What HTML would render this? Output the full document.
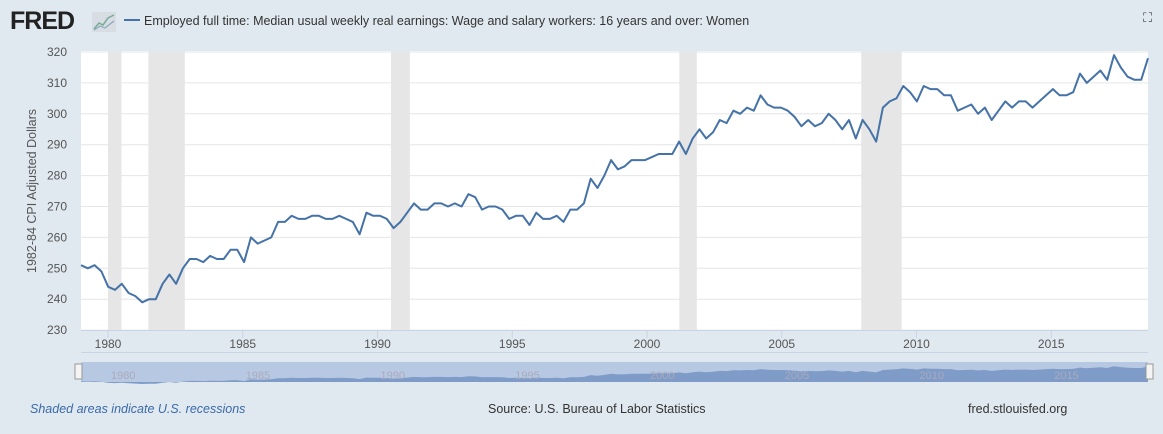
<!DOCTYPE html>
<html><head><style>
body{margin:0;width:1163px;height:434px;background:#e1e9f0;font-family:"Liberation Sans",sans-serif;overflow:hidden;position:relative}
.t{position:absolute;white-space:nowrap}
</style></head><body>
<svg width="1163" height="434" style="position:absolute;left:0;top:0" id="s"></svg>
<div class="t" style="left:10px;top:7px;font-size:25px;font-weight:bold;letter-spacing:-1px;color:#222">FRED</div>
<div class="t" style="left:144px;top:14px;font-size:12.5px;color:#333">Employed full time: Median usual weekly real earnings: Wage and salary workers: 16 years and over: Women</div>
<div class="t" style="left:1143px;top:10px;font-size:13px;color:#444">⛶</div>
<div class="t" style="left:30px;top:402px;font-size:12.5px;color:#3a6aa8;font-style:italic">Shaded areas indicate U.S. recessions</div>
<div class="t" style="left:488px;top:402px;font-size:12.5px;color:#333">Source: U.S. Bureau of Labor Statistics</div>
<div class="t" style="left:968px;top:402px;font-size:12.5px;color:#333">fred.stlouisfed.org</div>
<script>
const v=[251,250,251,249,244,243,245,242,241,239,240,240,245,248,245,250,253,253,252,254,253,253,256,256,252,260,258,259,260,265,265,267,266,266,267,267,266,266,267,266,265,261,268,267,267,266,263,265,268,271,269,269,271,271,270,271,270,274,273,269,270,270,269,266,267,267,264,268,266,266,267,265,269,269,271,279,276,280,285,282,283,285,285,285,286,287,287,287,291,287,292,295,292,294,298,297,301,300,302,301,306,303,302,302,301,299,296,298,296,297,300,298,295,298,292,298,295,291,302,304,305,309,307,304,309,308,308,306,306,301,302,303,300,302,298,301,304,302,304,304,302,304,306,308,306,306,307,313,310,312,314,311,319,315,312,311,311,318];
const X=y=>108+(y-1980)*26.95, Y=val=>52+(320-val)*3.09;
let h='<rect x="81" y="51" width="1067" height="279" fill="#fff"/>';
[[1980,1980.5],[1981.5,1982.85],[1990.5,1991.2],[2001.2,2001.85],[2007.95,2009.45]].forEach(r=>h+=`<rect x="${X(r[0])}" y="51" width="${X(r[1])-X(r[0])}" height="279" fill="#e6e6e6"/>`);
for(let g=230;g<=320;g+=10){h+=`<line x1="81" x2="1148" y1="${Y(g)}" y2="${Y(g)}" stroke="#e6e6e6"/>`;h+=`<text x="67" y="${Y(g)+4}" font-size="12" fill="#555" text-anchor="end">${g}</text>`;}
h+='<line x1="81" x2="1148" y1="330.5" y2="330.5" stroke="#c8d3e6"/>';
for(let yr=1980;yr<=2015;yr+=5){h+=`<line x1="${X(yr)}" x2="${X(yr)}" y1="330" y2="338" stroke="#c8d3e6"/><text x="${X(yr)}" y="348" font-size="12" fill="#555" text-anchor="middle">${yr}</text>`;}
h+='<line x1="81" x2="1148" y1="352.5" y2="352.5" stroke="#c8d3e6"/>';
h+='<text transform="translate(36,191) rotate(-90)" font-size="12.5" fill="#555" text-anchor="middle">1982-84 CPI Adjusted Dollars</text>';
const step=(1148-81)/(v.length-1);
let p=v.map((a,i)=>`${(81+i*step).toFixed(1)},${Y(a).toFixed(1)}`).join(' ');
h+='<rect x="81" y="362" width="1067" height="20" fill="#b7c8e2"/>';
let np=v.map((a,i)=>`${(81+i*step).toFixed(1)},${(382-(a-230)/90*20+4).toFixed(1)}`).join(' ');
h+=`<polygon points="81,382 ${np} 1148,382" fill="#7e9cc7"/>`;
for(let yr=1980;yr<=2015;yr+=5)h+=`<text x="${X(yr)+3}" y="379" font-size="11" fill="#aab">${yr}</text>`;
h+='<rect x="75" y="364" width="7" height="15" fill="#f4f4f4" stroke="#999"/><rect x="1146" y="364" width="7" height="15" fill="#f4f4f4" stroke="#999"/>';
h+=`<polyline points="${p}" fill="none" stroke="#4572a7" stroke-width="2" stroke-linejoin="round"/>`;
h+='<g transform="translate(92,12)"><rect width="24" height="20" fill="#d8dde3"/><polyline points="2,17 7,11 11,13 16,6 22,3" fill="none" stroke="#7a9" stroke-width="1.5"/><polyline points="2,18 8,14 13,16 22,9" fill="none" stroke="#8ab" stroke-width="1.2"/></g>';
h+='<line x1="124" x2="140" y1="20" y2="20" stroke="#4572a7" stroke-width="2"/>';
document.getElementById('s').innerHTML=h;
</script>
</body></html>
